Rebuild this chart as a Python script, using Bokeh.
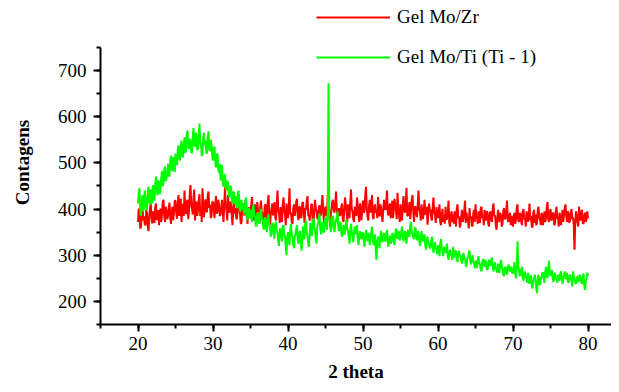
from bokeh.plotting import figure
from bokeh.models import Range1d, SingleIntervalTicker, Legend, LegendItem
from bokeh.embed import file_html
from bokeh.resources import INLINE

# 2 theta from 20 to 80, step 0.1
two_theta_start = 20.0
two_theta_step = 0.1

mo_zr = [
    372, 401, 395, 358, 361, 392, 408, 375, 384, 366,
    366, 398, 391, 362, 352, 385, 400, 412, 378, 369,
    395, 381, 370, 404, 412, 376, 383, 398, 365, 390,
    401, 372, 388, 415, 420, 384, 372, 405, 396, 378,
    385, 402, 414, 380, 368, 395, 405, 376, 392, 418,
    418, 392, 379, 410, 430, 385, 398, 422, 372, 405,
    411, 385, 440, 398, 389, 415, 420, 378, 395, 432,
    452, 410, 401, 388, 425, 442, 375, 398, 416, 385,
    398, 420, 432, 385, 404, 372, 445, 412, 382, 405,
    421, 395, 393, 430, 438, 402, 409, 380, 385, 415,
    415, 398, 380, 412, 428, 390, 396, 420, 410, 385,
    388, 402, 420, 395, 372, 410, 447, 405, 398, 375,
    430, 398, 392, 416, 412, 385, 365, 402, 420, 390,
    402, 380, 378, 410, 433, 398, 391, 368, 370, 405,
    412, 392, 386, 415, 420, 385, 368, 398, 404, 380,
    393, 410, 426, 388, 375, 402, 410, 372, 384, 415,
    400, 385, 369, 405, 418, 392, 392, 378, 372, 408,
    410, 378, 382, 415, 430, 395, 366, 388, 398, 412,
    386, 400, 415, 382, 375, 408, 440, 395, 392, 370,
    404, 385, 372, 410, 425, 398, 388, 365, 412, 392,
    380, 405, 445, 388, 392, 372, 368, 402, 410, 385,
    398, 415, 422, 385, 376, 405, 405, 380, 384, 412,
    415, 392, 370, 402, 398, 418, 428, 385, 386, 375,
    392, 410, 410, 372, 366, 395, 420, 402, 395, 380,
    378, 402, 408, 385, 388, 412, 430, 392, 370, 398,
    405, 388, 385, 430, 418, 395, 362, 385, 400, 415,
    420, 398, 392, 410, 438, 402, 378, 390, 402, 385,
    388, 405, 412, 378, 372, 398, 425, 410, 396, 372,
    410, 392, 380, 415, 442, 400, 394, 378, 372, 405,
    400, 385, 425, 405, 388, 372, 412, 395, 376, 402,
    418, 392, 395, 430, 448, 402, 384, 375, 406, 420,
    392, 410, 430, 385, 378, 402, 410, 392, 398, 380,
    426, 398, 384, 410, 404, 385, 372, 398, 420, 405,
    398, 415, 440, 392, 386, 405, 412, 380, 392, 418,
    380, 398, 422, 410, 396, 378, 435, 402, 388, 372,
    410, 392, 375, 405, 428, 398, 392, 412, 446, 385,
    386, 402, 415, 378, 398, 420, 430, 395, 372, 405,
    405, 390, 382, 412, 440, 398, 395, 375, 410, 392,
    378, 395, 420, 388, 392, 405, 366, 385, 412, 398,
    398, 380, 375, 405, 425, 392, 388, 370, 404, 385,
    380, 395, 410, 372, 365, 388, 400, 372, 386, 368,
    405, 378, 378, 392, 418, 370, 362, 385, 395, 372,
    388, 368, 395, 378, 362, 402, 410, 380, 384, 360,
    366, 385, 398, 372, 380, 395, 418, 370, 392, 378,
    375, 358, 402, 380, 384, 365, 362, 390, 398, 372,
    410, 385, 380, 368, 395, 378, 370, 402, 405, 380,
    385, 365, 398, 380, 375, 395, 392, 368, 362, 390,
    395, 378, 372, 402, 412, 385, 386, 365, 355, 380,
    398, 372, 378, 392, 385, 362, 368, 395, 402, 378,
    380, 395, 418, 375, 372, 385, 392, 365, 385, 370,
    362, 385, 392, 368, 378, 402, 410, 375, 372, 390,
    390, 372, 365, 395, 400, 378, 380, 362, 395, 385,
    372, 388, 412, 375, 385, 362, 360, 392, 398, 370,
    388, 365, 370, 398, 405, 380, 378, 365, 392, 385,
    365, 385, 395, 372, 380, 405, 415, 378, 372, 392,
    400, 375, 378, 392, 390, 365, 368, 395, 405, 380,
    380, 362, 392, 385, 365, 380, 398, 372, 386, 402,
    410, 385, 372, 395, 392, 370, 375, 390, 400, 378,
    382, 365, 312, 372, 395, 385, 370, 362, 405, 388,
    375, 392, 398, 370, 368, 385, 392, 372, 378, 395,
    380,
]

mo_ti = [
    412, 435, 445, 398, 385, 420, 430, 395, 402, 440,
    425, 405, 398, 432, 448, 415, 410, 442, 435, 412,
    452, 425, 418, 455, 470, 438, 430, 462, 458, 432,
    440, 468, 482, 450, 455, 485, 492, 460, 465, 478,
    498, 475, 470, 505, 515, 488, 482, 512, 505, 480,
    520, 498, 495, 528, 538, 510, 505, 535, 548, 515,
    512, 540, 555, 522, 525, 560, 570, 535, 530, 552,
    548, 525, 520, 558, 575, 540, 535, 565, 560, 528,
    530, 562, 585, 540, 542, 515, 518, 555, 565, 538,
    548, 522, 520, 555, 568, 530, 525, 550, 540, 515,
    505, 530, 535, 500, 490, 518, 520, 488, 478, 498,
    462, 485, 495, 455, 448, 470, 475, 445, 440, 462,
    455, 432, 425, 450, 448, 420, 412, 438, 435, 410,
    428, 410, 402, 432, 440, 405, 395, 420, 418, 398,
    410, 395, 388, 415, 425, 392, 375, 400, 402, 380,
    398, 380, 372, 402, 410, 385, 385, 365, 362, 390,
    392, 372, 368, 395, 400, 378, 375, 360, 355, 382,
    378, 360, 350, 382, 388, 365, 362, 340, 345, 370,
    365, 348, 335, 368, 372, 352, 348, 330, 320, 355,
    358, 340, 330, 362, 365, 342, 342, 318, 300, 338,
    350, 332, 322, 355, 368, 345, 338, 322, 315, 342,
    345, 358, 365, 332, 325, 348, 352, 328, 310, 335,
    362, 345, 335, 368, 375, 350, 340, 325, 318, 348,
    370, 352, 342, 375, 380, 358, 355, 335, 325, 362,
    368, 380, 390, 358, 345, 365, 372, 350, 350, 375,
    382, 365, 355, 398, 672, 385, 372, 350, 360, 378,
    385, 365, 350, 368, 375, 382, 395, 362, 352, 370,
    372, 350, 340, 358, 365, 345, 348, 368, 378, 355,
    355, 338, 325, 352, 368, 350, 340, 328, 350, 362,
    345, 358, 365, 338, 322, 340, 352, 345, 335, 350,
    348, 330, 318, 342, 355, 338, 330, 348, 345, 322,
    335, 350, 362, 338, 322, 335, 345, 310, 290, 332,
    340, 325, 315, 338, 352, 335, 328, 345, 348, 330,
    332, 345, 355, 328, 318, 335, 342, 325, 330, 348,
    345, 330, 322, 348, 358, 340, 335, 352, 350, 332,
    338, 352, 362, 340, 330, 345, 352, 335, 325, 348,
    355, 342, 340, 365, 372, 350, 345, 338, 335, 358,
    360, 340, 332, 352, 348, 330, 320, 338, 352, 335,
    330, 342, 345, 322, 312, 330, 340, 328, 325, 315,
    318, 332, 340, 315, 305, 320, 328, 315, 312, 302,
    322, 308, 298, 325, 335, 315, 308, 298, 318, 310,
    305, 318, 325, 298, 290, 305, 312, 300, 300, 290,
    318, 302, 295, 310, 308, 292, 285, 300, 310, 298,
    300, 288, 282, 298, 305, 290, 292, 278, 275, 295,
    295, 305, 310, 288, 280, 292, 300, 285, 285, 272,
    288, 275, 272, 290, 298, 282, 280, 268, 265, 285,
    292, 280, 275, 290, 285, 270, 268, 282, 290, 278,
    278, 290, 295, 272, 265, 278, 285, 270, 272, 262,
    282, 268, 262, 280, 290, 275, 270, 258, 255, 272,
    275, 262, 258, 272, 280, 268, 265, 275, 272, 260,
    262, 275, 285, 258, 250, 270, 330, 275, 268, 255,
    258, 270, 275, 250, 245, 258, 265, 252, 250, 240,
    262, 248, 238, 255, 255, 235, 228, 245, 248, 258,
    245, 230, 218, 248, 258, 240, 235, 252, 250, 262,
    262, 250, 240, 265, 275, 255, 250, 272, 288, 260,
    255, 265, 268, 248, 242, 255, 262, 248, 250, 240,
    258, 248, 245, 260, 265, 250, 238, 252, 255, 265,
    248, 258, 262, 245, 240, 252, 258, 248, 245, 232,
    265, 255, 250, 240, 238, 248, 255, 242, 245, 258,
    252, 242, 238, 255, 260, 235, 225, 245, 248, 262,
    255,
]

two_theta = [round(two_theta_start + i * two_theta_step, 2) for i in range(len(mo_zr))]

series_labels = ["Gel Mo/Zr", "Gel Mo/Ti (Ti - 1)"]
series_colors = ["#ff0000", "#00ff00"]

FONT = "Liberation Serif"

p = figure(
    width=611, height=384,
    output_backend="svg", toolbar_location=None,
    x_range=Range1d(15, 83.13), y_range=Range1d(150, 851.3),
    min_border_left=100, min_border_right=0, min_border_top=0, min_border_bottom=60,
)
p.outline_line_color = None
p.xgrid.visible = False
p.ygrid.visible = False
p.background_fill_color = "white"
p.border_fill_color = "white"

r1 = p.line(two_theta, mo_zr, line_color=series_colors[0], line_width=2)
r2 = p.line(two_theta, mo_ti, line_color=series_colors[1], line_width=2)

p.xaxis.ticker = SingleIntervalTicker(interval=10, num_minor_ticks=2)
p.yaxis.ticker = SingleIntervalTicker(interval=100, num_minor_ticks=2)
p.xaxis.bounds = (15, 85)
p.yaxis.bounds = (150, 750)

for ax in (p.xaxis[0], p.yaxis[0]):
    ax.axis_line_width = 2
    ax.axis_line_color = "black"
    ax.major_tick_line_width = 2
    ax.minor_tick_line_width = 2
    ax.major_tick_line_color = "black"
    ax.minor_tick_line_color = "black"
    ax.major_tick_out = 7
    ax.major_tick_in = 0
    ax.minor_tick_out = 4
    ax.minor_tick_in = 0
    ax.major_label_text_font = FONT
    ax.major_label_text_font_size = "19px"
    ax.major_label_text_color = "black"
    ax.axis_label_text_font = FONT
    ax.axis_label_text_font_size = "19px"
    ax.axis_label_text_font_style = "bold"
    ax.axis_label_text_color = "black"

p.xaxis.major_label_standoff = 5
p.yaxis.major_label_standoff = 7
p.xaxis.axis_label = "2 theta"
p.yaxis.axis_label = "Contagens"
p.xaxis.axis_label_standoff = 8
p.yaxis.axis_label_standoff = 22

legend = Legend(
    items=[LegendItem(label=series_labels[0], renderers=[r1]),
           LegendItem(label=series_labels[1], renderers=[r2])],
    location=(216, 256),
    border_line_color=None,
    background_fill_alpha=0,
    padding=0, margin=0, spacing=18,
    glyph_width=74, glyph_height=20, label_height=20,
    label_standoff=7,
    label_text_font=FONT, label_text_font_size="19px", label_text_color="black",
)
p.add_layout(legend)

open("out.html", "w").write(file_html(p, INLINE))
